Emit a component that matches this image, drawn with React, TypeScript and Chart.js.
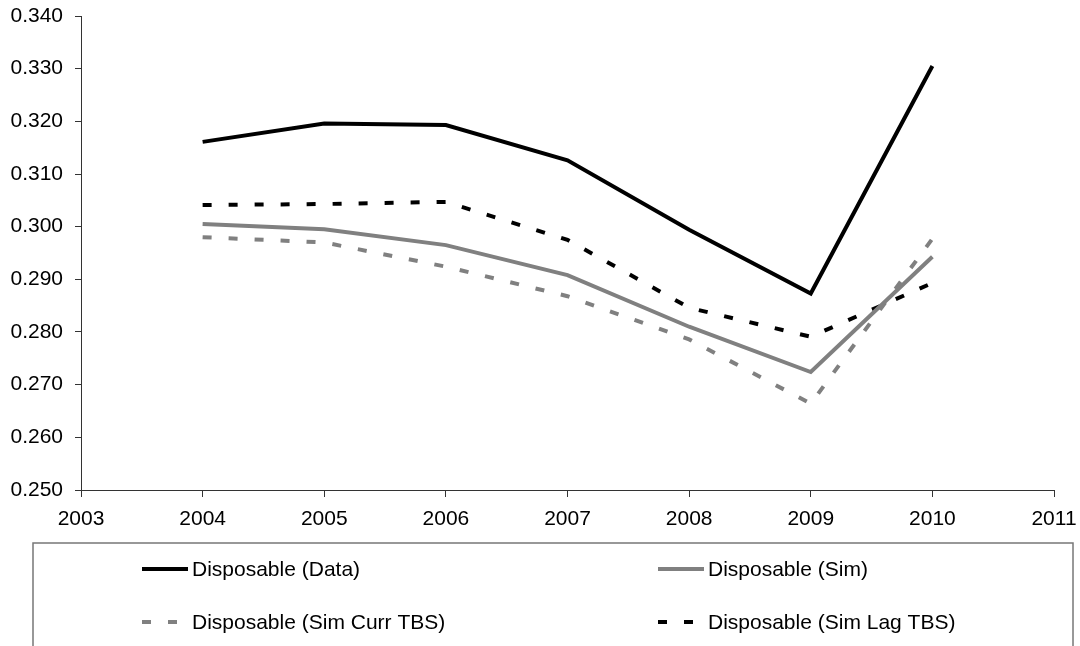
import { useEffect, useRef } from "react"
import { Chart, registerables } from "chart.js"

Chart.register(...registerables)

const years = [2004, 2005, 2006, 2007, 2008, 2009, 2010]
const disposableData = [0.3161, 0.3196, 0.3193, 0.3126, 0.2994, 0.2873, 0.3305]
const disposableSim = [0.3005, 0.2995, 0.2965, 0.2908, 0.281, 0.2724, 0.2943]
const disposableSimCurr = [0.298, 0.297, 0.2924, 0.2868, 0.2786, 0.2664, 0.2977]
const disposableSimLag = [0.3041, 0.3043, 0.3047, 0.2975, 0.2846, 0.2791, 0.2893]

const seriesLabels = [
  "Disposable (Data)",
  "Disposable (Sim)",
  "Disposable (Sim Curr TBS)",
  "Disposable (Sim Lag TBS)",
]

const FONT = "'Liberation Sans', Arial, sans-serif"
const FONT_SIZE = 21

const toPoints = (vals: number[]) => vals.map((v, i) => ({ x: years[i], y: v }))

// legend drawn on the canvas in a boxed 2x2 grid like the original
const boxLegend = {
  id: "boxLegend",
  afterDraw(chart: any) {
    const ctx = chart.ctx
    ctx.save()
    ctx.strokeStyle = "#777"
    ctx.lineWidth = 1.5
    ctx.strokeRect(33, 543, 1040, 140)

    const cols = [142, 658]
    const rows = [569, 622]
    chart.data.datasets.forEach((ds: any, i: number) => {
      const x = cols[i % 2]
      const y = rows[Math.floor(i / 2)]
      ctx.beginPath()
      ctx.strokeStyle = ds.borderColor
      ctx.lineWidth = ds.borderWidth
      ctx.lineCap = "butt"
      ctx.setLineDash(ds.borderDash || [])
      ctx.moveTo(x, y)
      ctx.lineTo(x + 46, y)
      ctx.stroke()
      ctx.setLineDash([])
      ctx.fillStyle = "#000"
      ctx.font = `${FONT_SIZE}px ${FONT}`
      ctx.textBaseline = "middle"
      ctx.textAlign = "left"
      ctx.fillText(ds.label, x + 50, y + 1)
    })
    ctx.restore()
  },
}

export default function App() {
  const chartRef = useRef<HTMLCanvasElement>(null)
  const chartInstance = useRef<Chart | null>(null)

  useEffect(() => {
    if (!chartRef.current) return
    if (chartInstance.current) chartInstance.current.destroy()

    const ctx = chartRef.current.getContext("2d")
    if (!ctx) return

    chartInstance.current = new Chart(ctx, {
      type: "line",
      data: {
        datasets: [
          {
            label: seriesLabels[0],
            data: toPoints(disposableData),
            borderColor: "#000000",
            borderWidth: 4,
          },
          {
            label: seriesLabels[1],
            data: toPoints(disposableSim),
            borderColor: "#808080",
            borderWidth: 4,
          },
          {
            label: seriesLabels[2],
            data: toPoints(disposableSimCurr),
            borderColor: "#808080",
            borderWidth: 4,
            borderDash: [9, 17],
          },
          {
            label: seriesLabels[3],
            data: toPoints(disposableSimLag),
            borderColor: "#000000",
            borderWidth: 4,
            borderDash: [9, 17],
          },
        ],
      },
      options: {
        responsive: false,
        animation: false,
        devicePixelRatio: 1,
        layout: { padding: { left: 0, top: 16, right: 26, bottom: 0 } },
        elements: {
          point: { radius: 0, hoverRadius: 0 },
          line: { tension: 0, borderCapStyle: "butt", borderJoinStyle: "miter" },
        },
        font: { family: FONT, size: FONT_SIZE },
        scales: {
          x: {
            type: "linear",
            min: 2003,
            max: 2011,
            afterFit: (scale: any) => {
              scale.height = 156
              scale.paddingLeft = 0
              scale.paddingRight = 0
            },
            ticks: {
              stepSize: 1,
              color: "#000",
              padding: 10,
              maxRotation: 0,
              font: { family: FONT, size: FONT_SIZE },
              callback: (v: any) => String(v),
            },
            grid: {
              drawOnChartArea: false,
              drawTicks: true,
              tickLength: 7,
              color: "#333",
            },
            border: { display: true, color: "#333", width: 1 },
          },
          y: {
            type: "linear",
            min: 0.25,
            max: 0.34,
            afterFit: (scale: any) => {
              scale.width = 81
              scale.paddingTop = 0
              scale.paddingBottom = 0
            },
            ticks: {
              stepSize: 0.01,
              color: "#000",
              padding: 12,
              font: { family: FONT, size: FONT_SIZE },
              callback: (v: any) => Number(v).toFixed(3),
            },
            grid: {
              drawOnChartArea: false,
              drawTicks: true,
              tickLength: 6,
              color: "#333",
            },
            border: { display: true, color: "#333", width: 1 },
          },
        },
        plugins: {
          legend: { display: false },
          tooltip: { enabled: false },
          title: { display: false },
        },
      } as any,
      plugins: [boxLegend],
    })

    return () => {
      if (chartInstance.current) {
        chartInstance.current.destroy()
        chartInstance.current = null
      }
    }
  }, [])

  return (
    <div style={{ position: "fixed", left: 0, top: 0, width: 1080, height: 646, background: "#fff" }}>
      <canvas ref={chartRef} width={1080} height={646} />
    </div>
  )
}
